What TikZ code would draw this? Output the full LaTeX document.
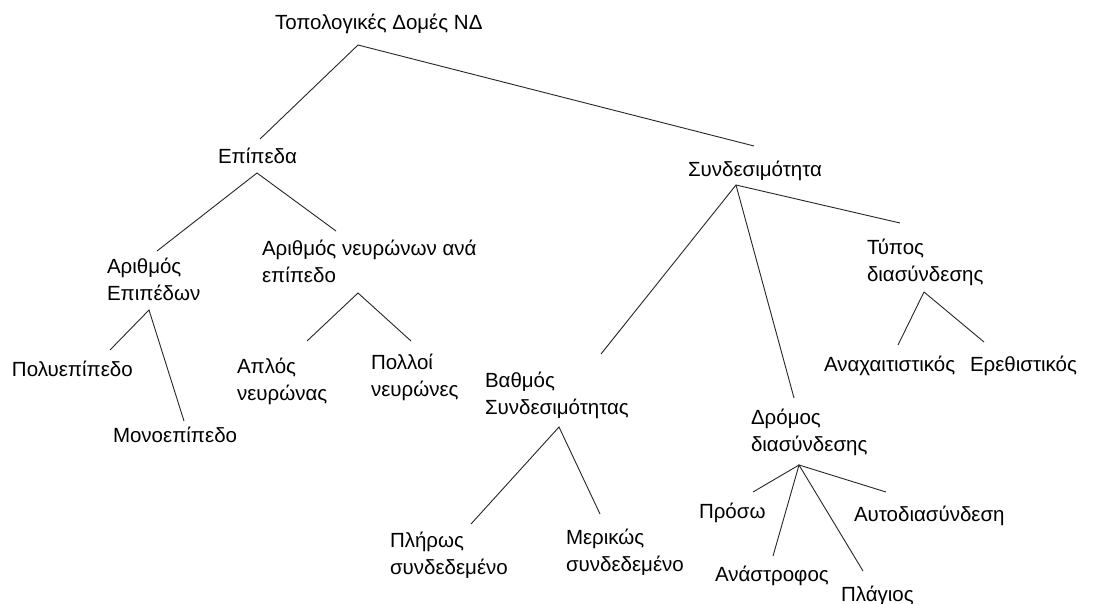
\documentclass[tikz,border=0pt]{standalone}
\usepackage{fontspec}
\setmainfont{Liberation Sans}
\begin{document}
\begin{tikzpicture}[x=1pt,y=-1pt,
  lbl/.style={inner sep=0pt,outer sep=0pt,anchor=base west,
    font=\fontsize{20.5}{27}\selectfont},
  lbl2/.style={inner sep=0pt,outer sep=0pt,anchor=west,align=left,
    font=\fontsize{20.5}{27}\selectfont},
  branch/.style={draw=black!85,line width=0.9pt}]
\useasboundingbox[fill=white] (0,0) rectangle (1102,604);

% labels
\node[lbl]  (root)  at (275,30)   {Τοπολογικές Δομές ΝΔ};
\node[lbl]  (epi)   at (218,164)  {Επίπεδα};
\node[lbl]  (syn)   at (688,177)  {Συνδεσιμότητα};
\node[lbl2] (arep)  at (107,279)  {Αριθμός\\Επιπέδων};
\node[lbl2] (arneu) at (262,261.5){Αριθμός νευρώνων ανά\\επίπεδο};
\node[lbl2] (typ)   at (867,262.5){Τύπος\\διασύνδεσης};
\node[lbl]  (poly)  at (12,376)   {Πολυεπίπεδο};
\node[lbl]  (mono)  at (113,442)  {Μονοεπίπεδο};
\node[lbl2] (apl)   at (237,381)  {Απλός\\νευρώνας};
\node[lbl2] (pol)   at (371,377)  {Πολλοί\\νευρώνες};
\node[lbl2] (vath)  at (485,395.5){Βαθμός\\Συνδεσιμότητας};
\node[lbl]  (anax)  at (824,371)  {Αναχαιτιστικός};
\node[lbl]  (ereth) at (970,371)  {Ερεθιστικός};
\node[lbl2] (drom)  at (751,432)  {Δρόμος\\διασύνδεσης};
\node[lbl2] (plir)  at (390,555.5){Πλήρως\\συνδεδεμένο};
\node[lbl2] (meri)  at (566,552)  {Μερικώς\\συνδεδεμένο};
\node[lbl]  (pros)  at (699,518)  {Πρόσω};
\node[lbl]  (auto)  at (854,521)  {Αυτοδιασύνδεση};
\node[lbl]  (anas)  at (715,581)  {Ανάστροφος};
\node[lbl]  (plag)  at (841,601)  {Πλάγιος};

% branching points just below each parent label
\coordinate (root-b)  at (358,45);
\coordinate (epi-b)   at (257,173);
\coordinate (syn-b)   at (736,185);
\coordinate (arep-b)  at (149,310);
\coordinate (arneu-b) at (358,293);
\coordinate (typ-b)   at (924,292);
\coordinate (vath-b)  at (559,427);
\coordinate (drom-b)  at (799,465);

% line ends just above each child label
\coordinate (epi-t)   at (260,139);
\coordinate (syn-t)   at (754,146);
\coordinate (arep-t)  at (157,251);
\coordinate (arneu-t) at (336,231);
\coordinate (typ-t)   at (900,223);
\coordinate (vath-t)  at (601,354);
\coordinate (drom-t)  at (794,398);
\coordinate (poly-t)  at (110,350);
\coordinate (mono-t)  at (184,421);
\coordinate (apl-t)   at (307,341);
\coordinate (pol-t)   at (411,341);
\coordinate (anax-t)  at (898,345);
\coordinate (ereth-t) at (984,342);
\coordinate (plir-t)  at (471,524);
\coordinate (meri-t)  at (600,514);
\coordinate (pros-t)  at (753,492);
\coordinate (anas-t)  at (773,556);
\coordinate (plag-t)  at (863,571);
\coordinate (auto-t)  at (886,492);

% tree branches
\draw[branch] (epi-t) -- (root-b) -- (syn-t);
\draw[branch] (arep-t) -- (epi-b) -- (arneu-t);
\draw[branch] (vath-t) -- (syn-b) -- (typ-t);
\draw[branch] (syn-b) -- (drom-t);
\draw[branch] (poly-t) -- (arep-b) -- (mono-t);
\draw[branch] (apl-t) -- (arneu-b) -- (pol-t);
\draw[branch] (anax-t) -- (typ-b) -- (ereth-t);
\draw[branch] (plir-t) -- (vath-b) -- (meri-t);
\draw[branch] (pros-t) -- (drom-b) -- (auto-t);
\draw[branch] (anas-t) -- (drom-b) -- (plag-t);
\end{tikzpicture}
\end{document}
